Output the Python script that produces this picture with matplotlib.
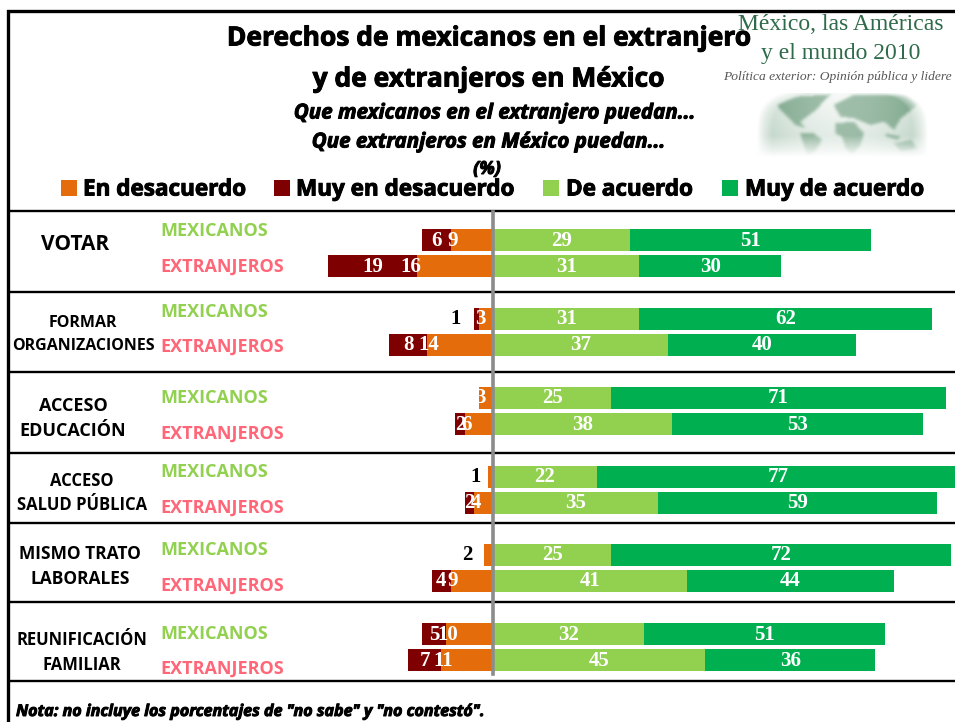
import numpy as np
import matplotlib
matplotlib.use("Agg")
import matplotlib.pyplot as plt
from matplotlib.patches import Rectangle
from matplotlib.path import Path
import matplotlib.patheffects as pe

# ---- data ----
temas = ["VOTAR", "FORMAR\nORGANIZACIONES", "ACCESO\nEDUCACIÓN",
         "ACCESO\nSALUD PÚBLICA", "MISMO TRATO\nLABORALES", "REUNIFICACIÓN\nFAMILIAR"]
grupos = ["MEXICANOS", "EXTRANJEROS"]
series = ["En desacuerdo", "Muy en desacuerdo", "De acuerdo", "Muy de acuerdo"]
en_desacuerdo = [9, 16, 3, 14, 3, 6, 1, 4, 2, 9, 10, 11]
muy_en_desacuerdo = [6, 19, 1, 8, 0, 2, 0, 2, 0, 4, 5, 7]
de_acuerdo = [29, 31, 31, 37, 25, 38, 22, 35, 25, 41, 32, 45]
muy_de_acuerdo = [51, 30, 62, 40, 71, 53, 77, 59, 72, 44, 51, 36]
c_en, c_muy_en, c_de, c_muy = "#E46C0A", "#7F0000", "#92D050", "#00B050"

# ---- layout (pixels of the 955x722 figure) ----
W, H = 955, 722
fig = plt.figure(figsize=(W / 100, H / 100), dpi=100)
bg = fig.add_axes([0, 0, 1, 1])
bg.set_xlim(0, W); bg.set_ylim(H, 0); bg.axis("off")

x0_px, scale = 493.0, 4.72
ax = fig.add_axes([0, 0, 1, 1], facecolor="none")
ax.set_xlim(-x0_px / scale, (W - x0_px) / scale)
ax.set_ylim(H, 0); ax.axis("off")

y_rows = [240, 266, 318.5, 345, 397.5, 424, 477, 503, 555, 581, 634, 660]
bar_h = 22
y = np.array(y_rows, float)
en = np.array(en_desacuerdo); muy_en = np.array(muy_en_desacuerdo)
de = np.array(de_acuerdo); muy = np.array(muy_de_acuerdo)

ax.barh(y, -muy_en, left=-en, height=bar_h, color=c_muy_en, zorder=2)
ax.barh(y, -en, height=bar_h, color=c_en, zorder=3)
ax.barh(y, de, height=bar_h, color=c_de, zorder=2)
ax.barh(y, muy, left=de, height=bar_h, color=c_muy, zorder=2)
ax.axvline(0, ymin=1 - 674 / H, ymax=1 - 212 / H, color="#8C8C8C", lw=2.6, zorder=4)

lab = dict(family="Liberation Serif", weight="bold", fontsize=15,
           ha="center", va="center", zorder=6)
for i in range(12):
    ty = y[i] + 0.5
    ax.text(de[i] / 2, ty, str(de[i]), color="white", **lab)
    ax.text(de[i] + muy[i] / 2, ty, str(muy[i]), color="white", **lab)
    # orange labels sit on the left edge of their bar
    xo = -en[i] - (1.8 if en[i] == 16 else 0)
    if en[i] == 1:
        ax.text(-3.6, ty, "1", color="black", **lab)
    elif en[i] == 2:
        ax.text(-5.5, ty, "2", color="black", **lab)
    else:
        ax.text(xo + 0.4, ty, str(en[i]), color="white", **lab)
    if muy_en[i] == 1:
        ax.text(-8, ty, "1", color="black", **lab)
    elif muy_en[i] > 0:
        ax.text(-en[i] - muy_en[i] / 2, ty, str(muy_en[i]), color="white", **lab)

# frame and separators
for yy in [211, 292, 372, 453, 523, 602, 681]:
    bg.plot([8, W], [yy, yy], color="black", lw=1.7, solid_capstyle="butt")
bg.plot([W, 8, 8], [10.5, 10.5, H], color="black", lw=2.4, solid_joinstyle="miter")

# row labels
sans = ["Open Sans", "DejaVu Sans"]
tema_y = [245, 334.5, 418.5, 493, 566.5, 652.5]
tema_x = [75, 83, 73, 82, 80, 82]
tema_fs = [15, 11.5, 13, 12, 12.5, 12]
tema_gap = [0, 23, 25, 24, 25, 25]
for t, tx, ty, fs, gap in zip(temas, tema_x, tema_y, tema_fs, tema_gap):
    lines = t.split("\n")
    for k, ln in enumerate(lines):
        yy = ty + (k - (len(lines) - 1) / 2) * gap
        bg.text(tx, yy, ln, family=sans, weight="bold", fontsize=fs, ha="center", va="center", color="black")
g_y = [231, 267, 312, 347, 398, 434, 472, 508, 550, 586, 634, 669]
for i, gy in enumerate(g_y):
    bg.text(160, gy, grupos[i % 2], family=sans, weight="bold", fontsize=13,
            ha="left", va="center", color=c_de if i % 2 == 0 else "#FF6678")

# titles
heavy = [pe.withStroke(linewidth=0.7, foreground="black")]
tit = dict(family=sans, weight="bold", ha="center", va="center", color="black", path_effects=heavy)
bg.text(488, 38, "Derechos de mexicanos en el extranjero", fontsize=19, **tit)
bg.text(488, 79, "y de extranjeros en México", fontsize=19, **tit)
sub = dict(family=sans, weight="bold", style="italic", ha="center", va="center", color="black",
           fontsize=14.8, path_effects=heavy)
bg.text(494, 113, "Que mexicanos en el extranjero puedan...", **sub)
bg.text(488, 142, "Que extranjeros en México puedan...", **sub)
bg.text(487, 169, "(%)", **{**sub, "fontsize": 13})

# legend
leg_sw = [61, 274, 543, 722]
leg_tx = [83, 296, 566, 745]
leg_c = [c_en, c_muy_en, c_de, c_muy]
for s, sx, tx, c in zip(series, leg_sw, leg_tx, leg_c):
    bg.add_patch(Rectangle((sx, 180), 16, 16, color=c, lw=0))
    bg.text(tx, 190, s, family=sans, weight="bold", fontsize=16.2, ha="left", va="center",
            color="black", path_effects=heavy)

# note
bg.text(16, 712, "Nota: no incluye los porcentajes de \"no sabe\" y \"no contestó\".", family=sans,
        weight="bold", style="italic", fontsize=11.6, ha="left", va="center", color="black",
        path_effects=heavy)

# logo
lg = dict(family="Liberation Serif", ha="center", va="center", color="#2F6B4A")
bg.text(841, 25, "México, las Américas", fontsize=17, **lg)
bg.text(841, 53, "y el mundo 2010", fontsize=17, **lg)
bg.text(723, 77, "Política exterior: Opinión pública y lidere", family="Liberation Serif",
        style="italic", fontsize=9.7, ha="left", va="center", color="#555555")

# globe picture: pale disc with blurred continents
gw, gh = 170, 64
gx, gy = np.meshgrid(np.arange(gw) + 757.5, np.arange(gh) + 93.5)
pts = np.c_[gx.ravel(), gy.ravel()]
land_shapes = [
    [(170, 300), (230, 275), (330, 268), (300, 300), (280, 320), (240, 350), (255, 370), (225, 360), (190, 325)],
    [(240, 385), (280, 385), (305, 405), (285, 440), (262, 455), (250, 420)],
    [(340, 300), (400, 270), (560, 270), (590, 300), (540, 340), (520, 375), (490, 350), (450, 360), (400, 340), (360, 335)],
    [(345, 355), (400, 350), (430, 385), (420, 420), (395, 450), (375, 430), (365, 395), (345, 385)],
    [(520, 415), (570, 405), (590, 430), (540, 440)],
    [(490, 385), (540, 395), (530, 405), (500, 395)],
]
land = np.zeros(gx.shape)
for shp in land_shapes:
    p = np.array(shp, float) / 3 + np.array([720, 5])
    land += Path(p).contains_points(pts).reshape(gx.shape)
for _ in range(5):  # soft edges
    land = (land + np.roll(land, 1, 0) + np.roll(land, -1, 0) + np.roll(land, 1, 1) + np.roll(land, -1, 1)) / 5
u = (gx - 842) / 85
v = (gy - 93) / 64
disc = np.clip((1 - u ** 2 - 0.5 * (1 - v) ** 6) * 3, 0, 1) * np.clip((1 - v) * 3, 0, 1)
shade = np.clip(0.05 + 0.28 * (u ** 2) + 0.18 * v, 0, 1)
strength = disc * np.clip(shade + land * (0.55 - 0.15 * v), 0, 1)
green = np.array([0.38, 0.58, 0.45])
img = np.ones(gx.shape + (3,)) - strength[..., None] * (1 - green)
bg.imshow(img, extent=(757, 927, 157, 93), aspect="auto", zorder=1, interpolation="bilinear")
bg.set_xlim(0, W); bg.set_ylim(H, 0)

fig.savefig("out.png", dpi=100)
